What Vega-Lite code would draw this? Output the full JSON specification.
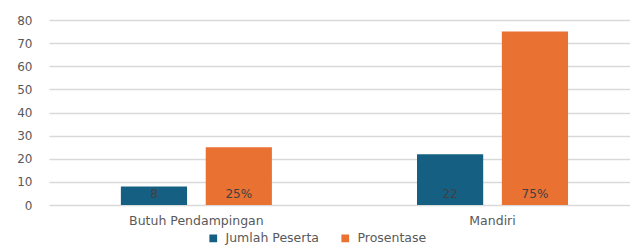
{
  "$schema": "https://vega.github.io/schema/vega-lite/v6.json",
  "autosize": "none",
  "padding": {"left": 49, "top": 20, "right": 0, "bottom": 41},
  "width": 581,
  "height": 185,
  "background": "white",
  "config": {
    "view": {"stroke": null},
    "font": "DejaVu Sans",
    "axisY": {"values": [0, 10, 20, 30, 40, 50, 60, 70, 80], "title": null, "domain": false, "ticks": false, "tickSize": 0, "labelPadding": 17, "labelFontSize": 12, "labelColor": "#595959", "gridColor": "#d9d9d9", "gridWidth": 1.3, "labelFont": "DejaVu Sans"}
  },
  "data": {
    "values": [
      {"kategori": "Butuh Pendampingan", "seri": "Jumlah Peserta", "nilai": 8, "label": "8"},
      {"kategori": "Butuh Pendampingan", "seri": "Prosentase", "nilai": 25, "label": "25%"},
      {"kategori": "Mandiri", "seri": "Jumlah Peserta", "nilai": 22, "label": "22"},
      {"kategori": "Mandiri", "seri": "Prosentase", "nilai": 75, "label": "75%"}
    ]
  },
  "encoding": {
    "x": {
      "field": "kategori", "type": "nominal", "sort": null,
      "scale": {"paddingInner": 0.49, "paddingOuter": 0.226, "align": 0.537},
      "axis": {"title": null, "labelAngle": 0, "domain": false, "ticks": false, "labelPadding": 9, "labelFontSize": 12.5, "labelColor": "#595959", "labelFont": "DejaVu Sans"}
    },
    "xOffset": {"field": "seri", "type": "nominal", "sort": null, "scale": {"paddingInner": 0.22, "paddingOuter": 0}}
  },
  "layer": [
    {
      "mark": {"type": "bar"},
      "encoding": {
        "y": {
          "field": "nilai", "type": "quantitative",
          "scale": {"domain": [0, 80], "nice": false},
          "axis": {"values": [0, 10, 20, 30, 40, 50, 60, 70, 80]}
        },
        "color": {
          "field": "seri", "type": "nominal", "sort": null,
          "scale": {"domain": ["Jumlah Peserta", "Prosentase"], "range": ["#156082", "#E97132"]},
          "legend": {"title": null, "orient": "none", "direction": "horizontal", "legendX": 158, "legendY": 212, "symbolType": "square", "symbolSize": 60, "symbolStrokeWidth": 0, "labelFontSize": 12.5, "labelColor": "#595959", "labelFont": "DejaVu Sans", "columnPadding": 20, "labelOffset": 6}
        }
      }
    },
    {
      "mark": {"type": "text", "baseline": "bottom", "dy": -4, "fontSize": 12, "color": "#404040", "font": "DejaVu Sans"},
      "encoding": {
        "y": {"datum": 0, "type": "quantitative", "axis": {"values": [0, 10, 20, 30, 40, 50, 60, 70, 80]}},
        "text": {"field": "label"}
      }
    }
  ]
}
